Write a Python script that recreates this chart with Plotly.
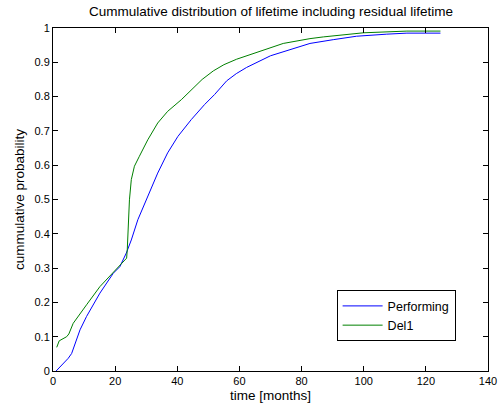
import plotly.graph_objects as go

perf_x = [1, 3.3, 4.9, 6, 8.7, 10.8, 15.1, 19.4, 21.5, 23.6, 25.2, 27.3, 30.5, 33.7, 36.9, 40.2,
          44.5, 48.8, 52, 55.9, 59, 62.3, 70, 76.4, 82.7, 90.2, 97.7, 107.4, 113.9, 124.7]
perf_y = [0, 0.022, 0.037, 0.051, 0.12, 0.159, 0.227, 0.285, 0.304, 0.344, 0.382, 0.441, 0.509,
          0.577, 0.636, 0.684, 0.733, 0.777, 0.806, 0.846, 0.867, 0.885, 0.919, 0.938, 0.955,
          0.966, 0.976, 0.982, 0.985, 0.985]

del_x = [1.2, 2, 4.4, 5.1, 6.5, 8.7, 10.8, 15.1, 18.3, 19.9, 23.7, 23.9, 24.1, 24.6, 25.2, 26.2,
         27.8, 30.5, 33.7, 36.9, 41.3, 44.5, 48, 51.6, 55, 59.1, 65.5, 74.1, 82.7, 87, 99.9, 104.2,
         113.9, 124.7]
del_y = [0.069, 0.088, 0.100, 0.108, 0.139, 0.168, 0.193, 0.246, 0.277, 0.29, 0.329, 0.353, 0.412,
         0.499, 0.558, 0.597, 0.626, 0.674, 0.723, 0.757, 0.791, 0.820, 0.850, 0.875, 0.893, 0.909,
         0.928, 0.955, 0.969, 0.974, 0.986, 0.988, 0.991, 0.991]

x_ticks = [0, 20, 40, 60, 80, 100, 120, 140]
y_ticks = [0, 0.1, 0.2, 0.3, 0.4, 0.5, 0.6, 0.7, 0.8, 0.9, 1]
y_tick_text = ["0", "0.1", "0.2", "0.3", "0.4", "0.5", "0.6", "0.7", "0.8", "0.9", "1"]

FONT = "Liberation Sans, Arial, sans-serif"

fig = go.Figure()
fig.add_trace(go.Scatter(x=perf_x, y=perf_y, mode="lines", name="Performing",
                         line=dict(color="#0000ff", width=1)))
fig.add_trace(go.Scatter(x=del_x, y=del_y, mode="lines", name="Del1",
                         line=dict(color="#008000", width=1)))

axis_common = dict(showline=True, linecolor="black", linewidth=1, mirror="ticks",
                   ticks="inside", ticklen=5, tickcolor="black", showgrid=False,
                   zeroline=False, automargin=False,
                   tickfont=dict(family=FONT, size=11, color="black"))

fig.update_layout(
    width=499, height=414,
    paper_bgcolor="white", plot_bgcolor="white",
    margin=dict(l=53, r=11, t=28, b=43),
    xaxis=dict(range=[0, 140], tickvals=x_ticks, ticktext=[str(v) for v in x_ticks],
               title=dict(text="time [months]", font=dict(family=FONT, size=13.5, color="black"),
                          standoff=4),
               **axis_common),
    yaxis=dict(range=[0, 1], tickvals=y_ticks, ticktext=y_tick_text,
               title=dict(text="cummulative probability",
                          font=dict(family=FONT, size=13.5, color="black"), standoff=6),
               **axis_common),
    legend=dict(x=0.652, y=0.161, xanchor="left", yanchor="middle",
                bgcolor="white", bordercolor="black", borderwidth=1,
                font=dict(family=FONT, size=12.5, color="black"),
                tracegroupgap=0, itemwidth=40),
    showlegend=True,
    annotations=[dict(text="Cummulative distribution of lifetime including residual lifetime",
                      xref="paper", yref="paper", x=0.5, y=1.048, xanchor="center",
                      yanchor="middle", showarrow=False,
                      font=dict(family=FONT, size=13.5, color="black"))],
)

fig.write_html("out.html", config={"displayModeBar": False},
               post_script="document.body.style.margin='0';document.body.style.overflow='hidden';")
